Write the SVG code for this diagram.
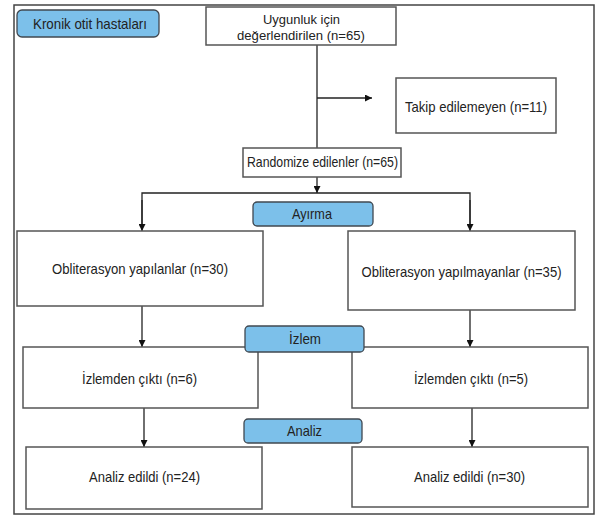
<svg xmlns="http://www.w3.org/2000/svg" width="597" height="516" viewBox="0 0 597 516">
<defs>
<style>
.box{fill:#ffffff;stroke:#555555;stroke-width:1.5}
.lab{fill:#7cc0ea;stroke:#404850;stroke-width:1.3}
.t{font-family:"Liberation Sans",Arial,sans-serif;font-size:15px;fill:#222222;text-anchor:middle}
.s{font-size:13.5px}
.c{fill:none;stroke:#222222;stroke-width:1.3}
</style>
<marker id="ah" viewBox="0 0 10 10" refX="10" refY="5" markerWidth="7" markerHeight="7" markerUnits="userSpaceOnUse" orient="auto">
<path d="M0,0 L10,5 L0,10 z" fill="#111111"/>
</marker>
</defs>
<rect x="0" y="0" width="597" height="516" fill="#ffffff"/>
<rect x="14" y="5" width="580" height="509" fill="none" stroke="#444444" stroke-width="1.5"/>

<g id="connectors">
<line class="c" x1="317" y1="45" x2="317" y2="148"/>
<line class="c" x1="317" y1="98" x2="372" y2="98" marker-end="url(#ah)"/>
<line class="c" x1="317" y1="177" x2="317" y2="193" marker-end="url(#ah)"/>
<polyline class="c" points="142,225 142,193 470,193 470,225"/>
<line class="c" x1="142" y1="200" x2="142" y2="231" marker-end="url(#ah)"/>
<line class="c" x1="470" y1="200" x2="470" y2="231" marker-end="url(#ah)"/>
<line class="c" x1="142" y1="306" x2="142" y2="347" marker-end="url(#ah)"/>
<line class="c" x1="470" y1="310" x2="470" y2="347" marker-end="url(#ah)"/>
<line class="c" x1="144" y1="408" x2="144" y2="447" marker-end="url(#ah)"/>
<line class="c" x1="472" y1="408" x2="472" y2="447" marker-end="url(#ah)"/>
</g>

<g id="kronik">
<rect class="lab" x="17" y="10" width="142" height="27" rx="5"/>
<text class="t" x="90" y="29" textLength="114" lengthAdjust="spacingAndGlyphs">Kronik otit hastaları</text>
</g>
<g id="uygunluk">
<rect class="box" x="206" y="7" width="190" height="38"/>
<text class="t s" x="301.5" y="23.5" textLength="77" lengthAdjust="spacingAndGlyphs">Uygunluk için</text>
<text class="t s" x="301" y="39.5" textLength="128" lengthAdjust="spacingAndGlyphs">değerlendirilen (n=65)</text>
</g>
<g id="takip">
<rect class="box" x="396" y="78" width="160" height="55"/>
<text class="t" x="476" y="112" textLength="142" lengthAdjust="spacingAndGlyphs">Takip edilemeyen (n=11)</text>
</g>
<g id="randomize">
<rect class="box" x="243" y="148" width="158" height="29"/>
<text class="t" x="322.5" y="167" textLength="151" lengthAdjust="spacingAndGlyphs">Randomize edilenler (n=65)</text>
</g>
<g id="ayirma">
<rect class="lab" x="253" y="202" width="120" height="24" rx="4"/>
<text class="t" x="312" y="219" textLength="40" lengthAdjust="spacingAndGlyphs">Ayırma</text>
</g>
<g id="obl-yap">
<rect class="box" x="17" y="231" width="246" height="75"/>
<text class="t" x="140" y="274" textLength="176" lengthAdjust="spacingAndGlyphs">Obliterasyon yapılanlar (n=30)</text>
</g>
<g id="obl-yapma">
<rect class="box" x="348" y="231" width="227" height="79"/>
<text class="t" x="461.5" y="277" textLength="200" lengthAdjust="spacingAndGlyphs">Obliterasyon yapılmayanlar (n=35)</text>
</g>
<g id="izlem-sol">
<rect class="box" x="23" y="347" width="235" height="61"/>
<text class="t" x="139.5" y="384" textLength="115" lengthAdjust="spacingAndGlyphs">İzlemden çıktı (n=6)</text>
</g>
<g id="izlem-sag">
<rect class="box" x="352" y="347" width="236" height="61"/>
<text class="t" x="471" y="384" textLength="114" lengthAdjust="spacingAndGlyphs">İzlemden çıktı (n=5)</text>
</g>
<g id="izlem">
<rect class="lab" x="245" y="326" width="119" height="26" rx="4"/>
<text class="t" x="305" y="344" textLength="32" lengthAdjust="spacingAndGlyphs">İzlem</text>
</g>
<g id="analiz">
<rect class="lab" x="244" y="419" width="118" height="24" rx="4"/>
<text class="t" x="304.5" y="436" textLength="35" lengthAdjust="spacingAndGlyphs">Analiz</text>
</g>
<g id="analiz-sol">
<rect class="box" x="26" y="447" width="236" height="62"/>
<text class="t" x="144.5" y="482" textLength="111" lengthAdjust="spacingAndGlyphs">Analiz edildi (n=24)</text>
</g>
<g id="analiz-sag">
<rect class="box" x="352" y="447" width="236" height="60"/>
<text class="t" x="469.5" y="482" textLength="111" lengthAdjust="spacingAndGlyphs">Analiz edildi (n=30)</text>
</g>
</svg>
